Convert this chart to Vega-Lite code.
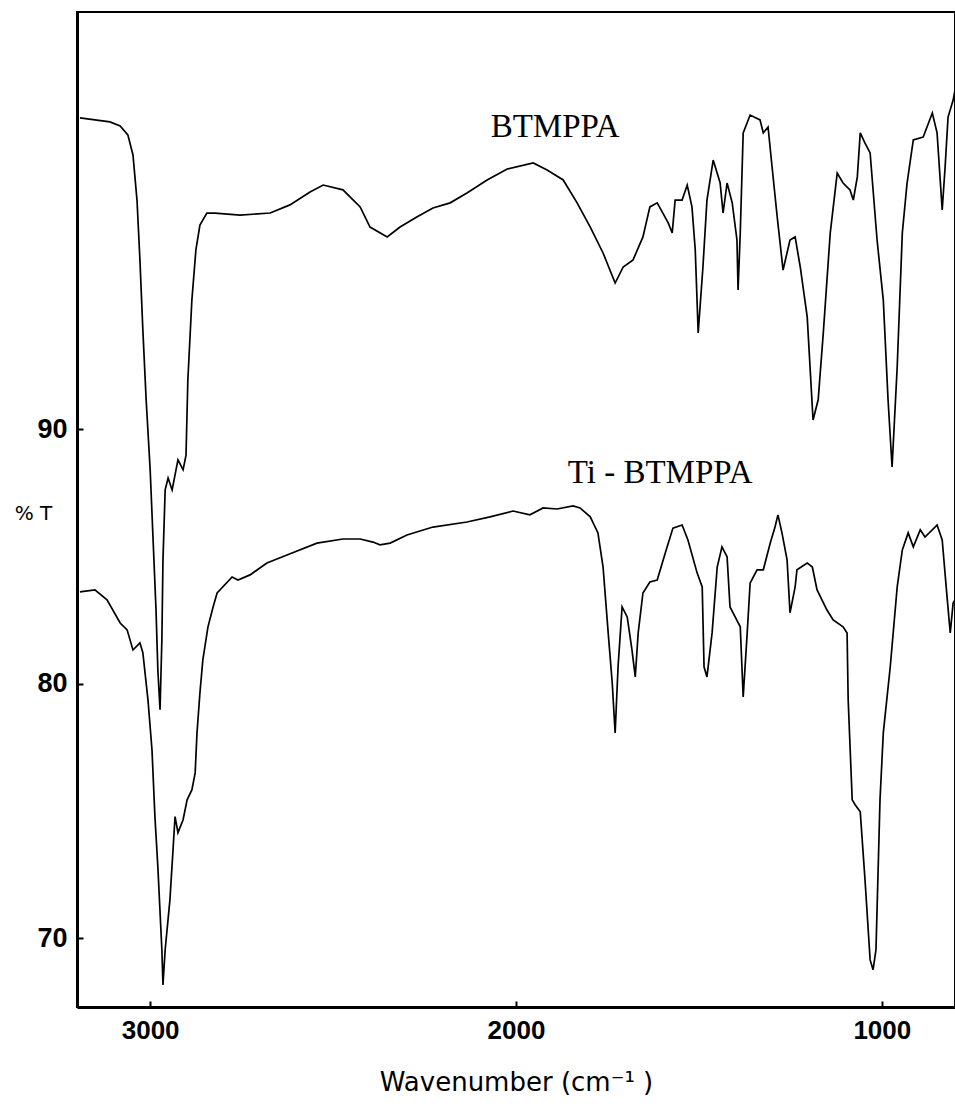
{
  "$schema": "https://vega.github.io/schema/vega-lite/v6.json",
  "width": 878,
  "height": 995,
  "autosize": {"type": "none"},
  "padding": {"left": 77, "top": 12, "right": 0, "bottom": 106},
  "background": "white",
  "config": {
    "view": {"stroke": "black", "strokeWidth": 2},
    "axis": {"domainColor": "black", "domainWidth": 3, "tickColor": "black", "labelColor": "black", "titleColor": "black", "grid": false}
  },
  "datasets": {
    "spectra": [
      {"s": "BTMPPA", "wn": 3192, "t": 102.24}, {"s": "BTMPPA", "wn": 3110, "t": 102.08}, {"s": "BTMPPA", "wn": 3082, "t": 101.92},
      {"s": "BTMPPA", "wn": 3061, "t": 101.57}, {"s": "BTMPPA", "wn": 3047, "t": 100.78}, {"s": "BTMPPA", "wn": 3036, "t": 99.01},
      {"s": "BTMPPA", "wn": 3028, "t": 96.66}, {"s": "BTMPPA", "wn": 3020, "t": 93.91}, {"s": "BTMPPA", "wn": 3011, "t": 91.16},
      {"s": "BTMPPA", "wn": 3000, "t": 88.41}, {"s": "BTMPPA", "wn": 2992, "t": 85.65}, {"s": "BTMPPA", "wn": 2984, "t": 82.9},
      {"s": "BTMPPA", "wn": 2979, "t": 80.54}, {"s": "BTMPPA", "wn": 2973, "t": 78.98}, {"s": "BTMPPA", "wn": 2968, "t": 81.73},
      {"s": "BTMPPA", "wn": 2965, "t": 84.87}, {"s": "BTMPPA", "wn": 2959, "t": 87.62}, {"s": "BTMPPA", "wn": 2951, "t": 88.09},
      {"s": "BTMPPA", "wn": 2940, "t": 87.62}, {"s": "BTMPPA", "wn": 2932, "t": 88.21}, {"s": "BTMPPA", "wn": 2924, "t": 88.8},
      {"s": "BTMPPA", "wn": 2910, "t": 88.41}, {"s": "BTMPPA", "wn": 2902, "t": 88.99}, {"s": "BTMPPA", "wn": 2897, "t": 91.94},
      {"s": "BTMPPA", "wn": 2886, "t": 95.08}, {"s": "BTMPPA", "wn": 2875, "t": 97.05}, {"s": "BTMPPA", "wn": 2864, "t": 98.03},
      {"s": "BTMPPA", "wn": 2845, "t": 98.5}, {"s": "BTMPPA", "wn": 2823, "t": 98.5}, {"s": "BTMPPA", "wn": 2754, "t": 98.42},
      {"s": "BTMPPA", "wn": 2672, "t": 98.5}, {"s": "BTMPPA", "wn": 2618, "t": 98.82}, {"s": "BTMPPA", "wn": 2563, "t": 99.33},
      {"s": "BTMPPA", "wn": 2527, "t": 99.6}, {"s": "BTMPPA", "wn": 2473, "t": 99.41}, {"s": "BTMPPA", "wn": 2426, "t": 98.74},
      {"s": "BTMPPA", "wn": 2399, "t": 97.95}, {"s": "BTMPPA", "wn": 2352, "t": 97.56}, {"s": "BTMPPA", "wn": 2317, "t": 97.95},
      {"s": "BTMPPA", "wn": 2270, "t": 98.35}, {"s": "BTMPPA", "wn": 2227, "t": 98.7}, {"s": "BTMPPA", "wn": 2180, "t": 98.9},
      {"s": "BTMPPA", "wn": 2134, "t": 99.29}, {"s": "BTMPPA", "wn": 2079, "t": 99.8}, {"s": "BTMPPA", "wn": 2024, "t": 100.23},
      {"s": "BTMPPA", "wn": 1953, "t": 100.47}, {"s": "BTMPPA", "wn": 1915, "t": 100.19}, {"s": "BTMPPA", "wn": 1871, "t": 99.8},
      {"s": "BTMPPA", "wn": 1833, "t": 98.9}, {"s": "BTMPPA", "wn": 1797, "t": 97.95}, {"s": "BTMPPA", "wn": 1762, "t": 96.93},
      {"s": "BTMPPA", "wn": 1729, "t": 95.75}, {"s": "BTMPPA", "wn": 1707, "t": 96.38}, {"s": "BTMPPA", "wn": 1680, "t": 96.66},
      {"s": "BTMPPA", "wn": 1653, "t": 97.56}, {"s": "BTMPPA", "wn": 1634, "t": 98.74}, {"s": "BTMPPA", "wn": 1614, "t": 98.9},
      {"s": "BTMPPA", "wn": 1584, "t": 98.11}, {"s": "BTMPPA", "wn": 1573, "t": 97.72}, {"s": "BTMPPA", "wn": 1565, "t": 99.01},
      {"s": "BTMPPA", "wn": 1546, "t": 99.01}, {"s": "BTMPPA", "wn": 1532, "t": 99.6}, {"s": "BTMPPA", "wn": 1519, "t": 98.74},
      {"s": "BTMPPA", "wn": 1510, "t": 97.05}, {"s": "BTMPPA", "wn": 1502, "t": 93.79}, {"s": "BTMPPA", "wn": 1489, "t": 96.38},
      {"s": "BTMPPA", "wn": 1478, "t": 99.01}, {"s": "BTMPPA", "wn": 1461, "t": 100.58}, {"s": "BTMPPA", "wn": 1442, "t": 99.68},
      {"s": "BTMPPA", "wn": 1434, "t": 98.5}, {"s": "BTMPPA", "wn": 1423, "t": 99.68}, {"s": "BTMPPA", "wn": 1409, "t": 98.9},
      {"s": "BTMPPA", "wn": 1396, "t": 97.44}, {"s": "BTMPPA", "wn": 1393, "t": 95.48}, {"s": "BTMPPA", "wn": 1387, "t": 97.72},
      {"s": "BTMPPA", "wn": 1379, "t": 101.65}, {"s": "BTMPPA", "wn": 1360, "t": 102.35}, {"s": "BTMPPA", "wn": 1333, "t": 102.16},
      {"s": "BTMPPA", "wn": 1324, "t": 101.65}, {"s": "BTMPPA", "wn": 1311, "t": 101.88}, {"s": "BTMPPA", "wn": 1300, "t": 100.31},
      {"s": "BTMPPA", "wn": 1286, "t": 98.35}, {"s": "BTMPPA", "wn": 1270, "t": 96.26}, {"s": "BTMPPA", "wn": 1251, "t": 97.44},
      {"s": "BTMPPA", "wn": 1237, "t": 97.56}, {"s": "BTMPPA", "wn": 1223, "t": 96.38}, {"s": "BTMPPA", "wn": 1204, "t": 94.42},
      {"s": "BTMPPA", "wn": 1188, "t": 90.37}, {"s": "BTMPPA", "wn": 1174, "t": 91.16}, {"s": "BTMPPA", "wn": 1160, "t": 93.79},
      {"s": "BTMPPA", "wn": 1141, "t": 97.72}, {"s": "BTMPPA", "wn": 1122, "t": 100.07}, {"s": "BTMPPA", "wn": 1106, "t": 99.68},
      {"s": "BTMPPA", "wn": 1087, "t": 99.41}, {"s": "BTMPPA", "wn": 1078, "t": 99.01}, {"s": "BTMPPA", "wn": 1067, "t": 99.92},
      {"s": "BTMPPA", "wn": 1059, "t": 101.65}, {"s": "BTMPPA", "wn": 1046, "t": 101.25}, {"s": "BTMPPA", "wn": 1032, "t": 100.86},
      {"s": "BTMPPA", "wn": 1013, "t": 97.44}, {"s": "BTMPPA", "wn": 996, "t": 95.08}, {"s": "BTMPPA", "wn": 983, "t": 91.16},
      {"s": "BTMPPA", "wn": 972, "t": 88.52}, {"s": "BTMPPA", "wn": 958, "t": 92.45}, {"s": "BTMPPA", "wn": 944, "t": 97.72},
      {"s": "BTMPPA", "wn": 931, "t": 99.68}, {"s": "BTMPPA", "wn": 914, "t": 101.37}, {"s": "BTMPPA", "wn": 887, "t": 101.49},
      {"s": "BTMPPA", "wn": 862, "t": 102.43}, {"s": "BTMPPA", "wn": 849, "t": 101.65}, {"s": "BTMPPA", "wn": 835, "t": 98.62},
      {"s": "BTMPPA", "wn": 827, "t": 100.31}, {"s": "BTMPPA", "wn": 819, "t": 102.27}, {"s": "BTMPPA", "wn": 805, "t": 102.94},
      {"s": "BTMPPA", "wn": 800, "t": 103.34},
      {"s": "Ti-BTMPPA", "wn": 3192, "t": 83.61}, {"s": "Ti-BTMPPA", "wn": 3151, "t": 83.69}, {"s": "Ti-BTMPPA", "wn": 3118, "t": 83.3},
      {"s": "Ti-BTMPPA", "wn": 3082, "t": 82.39}, {"s": "Ti-BTMPPA", "wn": 3063, "t": 82.12}, {"s": "Ti-BTMPPA", "wn": 3047, "t": 81.33},
      {"s": "Ti-BTMPPA", "wn": 3028, "t": 81.61}, {"s": "Ti-BTMPPA", "wn": 3020, "t": 81.22}, {"s": "Ti-BTMPPA", "wn": 3006, "t": 79.37},
      {"s": "Ti-BTMPPA", "wn": 2995, "t": 77.4}, {"s": "Ti-BTMPPA", "wn": 2987, "t": 74.78}, {"s": "Ti-BTMPPA", "wn": 2979, "t": 72.81},
      {"s": "Ti-BTMPPA", "wn": 2968, "t": 69.55}, {"s": "Ti-BTMPPA", "wn": 2965, "t": 68.17}, {"s": "Ti-BTMPPA", "wn": 2959, "t": 69.55},
      {"s": "Ti-BTMPPA", "wn": 2946, "t": 71.51}, {"s": "Ti-BTMPPA", "wn": 2938, "t": 73.36}, {"s": "Ti-BTMPPA", "wn": 2932, "t": 74.78},
      {"s": "Ti-BTMPPA", "wn": 2924, "t": 74.15}, {"s": "Ti-BTMPPA", "wn": 2910, "t": 74.66}, {"s": "Ti-BTMPPA", "wn": 2899, "t": 75.44},
      {"s": "Ti-BTMPPA", "wn": 2886, "t": 75.83}, {"s": "Ti-BTMPPA", "wn": 2877, "t": 76.5}, {"s": "Ti-BTMPPA", "wn": 2872, "t": 78.07},
      {"s": "Ti-BTMPPA", "wn": 2864, "t": 79.64}, {"s": "Ti-BTMPPA", "wn": 2856, "t": 80.94}, {"s": "Ti-BTMPPA", "wn": 2842, "t": 82.24},
      {"s": "Ti-BTMPPA", "wn": 2828, "t": 83.02}, {"s": "Ti-BTMPPA", "wn": 2817, "t": 83.57}, {"s": "Ti-BTMPPA", "wn": 2776, "t": 84.2},
      {"s": "Ti-BTMPPA", "wn": 2760, "t": 84.08}, {"s": "Ti-BTMPPA", "wn": 2727, "t": 84.28}, {"s": "Ti-BTMPPA", "wn": 2681, "t": 84.75},
      {"s": "Ti-BTMPPA", "wn": 2626, "t": 85.06}, {"s": "Ti-BTMPPA", "wn": 2544, "t": 85.53}, {"s": "Ti-BTMPPA", "wn": 2473, "t": 85.69},
      {"s": "Ti-BTMPPA", "wn": 2426, "t": 85.69}, {"s": "Ti-BTMPPA", "wn": 2391, "t": 85.57}, {"s": "Ti-BTMPPA", "wn": 2372, "t": 85.46},
      {"s": "Ti-BTMPPA", "wn": 2344, "t": 85.53}, {"s": "Ti-BTMPPA", "wn": 2298, "t": 85.85}, {"s": "Ti-BTMPPA", "wn": 2227, "t": 86.16},
      {"s": "Ti-BTMPPA", "wn": 2134, "t": 86.36}, {"s": "Ti-BTMPPA", "wn": 2071, "t": 86.56}, {"s": "Ti-BTMPPA", "wn": 2008, "t": 86.79},
      {"s": "Ti-BTMPPA", "wn": 1962, "t": 86.64}, {"s": "Ti-BTMPPA", "wn": 1926, "t": 86.91}, {"s": "Ti-BTMPPA", "wn": 1888, "t": 86.87},
      {"s": "Ti-BTMPPA", "wn": 1844, "t": 86.99}, {"s": "Ti-BTMPPA", "wn": 1825, "t": 86.91}, {"s": "Ti-BTMPPA", "wn": 1797, "t": 86.56},
      {"s": "Ti-BTMPPA", "wn": 1776, "t": 85.93}, {"s": "Ti-BTMPPA", "wn": 1762, "t": 84.59}, {"s": "Ti-BTMPPA", "wn": 1748, "t": 82.0},
      {"s": "Ti-BTMPPA", "wn": 1737, "t": 80.04}, {"s": "Ti-BTMPPA", "wn": 1729, "t": 78.07}, {"s": "Ti-BTMPPA", "wn": 1721, "t": 80.67},
      {"s": "Ti-BTMPPA", "wn": 1710, "t": 83.02}, {"s": "Ti-BTMPPA", "wn": 1696, "t": 82.63}, {"s": "Ti-BTMPPA", "wn": 1683, "t": 81.33},
      {"s": "Ti-BTMPPA", "wn": 1674, "t": 80.27}, {"s": "Ti-BTMPPA", "wn": 1666, "t": 82.0}, {"s": "Ti-BTMPPA", "wn": 1653, "t": 83.57},
      {"s": "Ti-BTMPPA", "wn": 1634, "t": 84.0}, {"s": "Ti-BTMPPA", "wn": 1614, "t": 84.08}, {"s": "Ti-BTMPPA", "wn": 1592, "t": 85.14},
      {"s": "Ti-BTMPPA", "wn": 1571, "t": 86.12}, {"s": "Ti-BTMPPA", "wn": 1546, "t": 86.24}, {"s": "Ti-BTMPPA", "wn": 1530, "t": 85.65},
      {"s": "Ti-BTMPPA", "wn": 1505, "t": 84.36}, {"s": "Ti-BTMPPA", "wn": 1491, "t": 83.81}, {"s": "Ti-BTMPPA", "wn": 1486, "t": 80.67},
      {"s": "Ti-BTMPPA", "wn": 1478, "t": 80.27}, {"s": "Ti-BTMPPA", "wn": 1464, "t": 82.0}, {"s": "Ti-BTMPPA", "wn": 1450, "t": 84.59},
      {"s": "Ti-BTMPPA", "wn": 1437, "t": 85.38}, {"s": "Ti-BTMPPA", "wn": 1423, "t": 84.99}, {"s": "Ti-BTMPPA", "wn": 1415, "t": 83.02},
      {"s": "Ti-BTMPPA", "wn": 1401, "t": 82.63}, {"s": "Ti-BTMPPA", "wn": 1387, "t": 82.24}, {"s": "Ti-BTMPPA", "wn": 1379, "t": 79.48},
      {"s": "Ti-BTMPPA", "wn": 1368, "t": 82.0}, {"s": "Ti-BTMPPA", "wn": 1360, "t": 83.96}, {"s": "Ti-BTMPPA", "wn": 1341, "t": 84.48},
      {"s": "Ti-BTMPPA", "wn": 1324, "t": 84.48}, {"s": "Ti-BTMPPA", "wn": 1305, "t": 85.53}, {"s": "Ti-BTMPPA", "wn": 1292, "t": 86.16},
      {"s": "Ti-BTMPPA", "wn": 1284, "t": 86.64}, {"s": "Ti-BTMPPA", "wn": 1273, "t": 85.93}, {"s": "Ti-BTMPPA", "wn": 1259, "t": 84.87},
      {"s": "Ti-BTMPPA", "wn": 1251, "t": 82.79}, {"s": "Ti-BTMPPA", "wn": 1237, "t": 83.81}, {"s": "Ti-BTMPPA", "wn": 1232, "t": 84.48},
      {"s": "Ti-BTMPPA", "wn": 1204, "t": 84.75}, {"s": "Ti-BTMPPA", "wn": 1190, "t": 84.59}, {"s": "Ti-BTMPPA", "wn": 1177, "t": 83.69},
      {"s": "Ti-BTMPPA", "wn": 1150, "t": 82.9}, {"s": "Ti-BTMPPA", "wn": 1133, "t": 82.51}, {"s": "Ti-BTMPPA", "wn": 1106, "t": 82.24},
      {"s": "Ti-BTMPPA", "wn": 1095, "t": 82.0}, {"s": "Ti-BTMPPA", "wn": 1092, "t": 79.37}, {"s": "Ti-BTMPPA", "wn": 1081, "t": 75.44},
      {"s": "Ti-BTMPPA", "wn": 1073, "t": 75.25}, {"s": "Ti-BTMPPA", "wn": 1059, "t": 74.97}, {"s": "Ti-BTMPPA", "wn": 1046, "t": 72.3},
      {"s": "Ti-BTMPPA", "wn": 1032, "t": 69.15}, {"s": "Ti-BTMPPA", "wn": 1024, "t": 68.76}, {"s": "Ti-BTMPPA", "wn": 1016, "t": 69.55},
      {"s": "Ti-BTMPPA", "wn": 1005, "t": 75.44}, {"s": "Ti-BTMPPA", "wn": 996, "t": 78.07}, {"s": "Ti-BTMPPA", "wn": 977, "t": 80.67},
      {"s": "Ti-BTMPPA", "wn": 958, "t": 83.81}, {"s": "Ti-BTMPPA", "wn": 944, "t": 85.26}, {"s": "Ti-BTMPPA", "wn": 928, "t": 85.93},
      {"s": "Ti-BTMPPA", "wn": 914, "t": 85.38}, {"s": "Ti-BTMPPA", "wn": 895, "t": 86.05}, {"s": "Ti-BTMPPA", "wn": 882, "t": 85.77},
      {"s": "Ti-BTMPPA", "wn": 849, "t": 86.24}, {"s": "Ti-BTMPPA", "wn": 835, "t": 85.65}, {"s": "Ti-BTMPPA", "wn": 821, "t": 83.3},
      {"s": "Ti-BTMPPA", "wn": 813, "t": 82.0}, {"s": "Ti-BTMPPA", "wn": 805, "t": 83.18}, {"s": "Ti-BTMPPA", "wn": 800, "t": 83.3}
    ],
    "labels": [
      {"label": "BTMPPA", "wn": 1893, "t": 101.88},
      {"label": "Ti - BTMPPA", "wn": 1606, "t": 88.29}
    ]
  },
  "layer": [
    {
      "data": {"name": "spectra"},
      "mark": {"type": "line", "color": "black", "strokeWidth": 1.7, "clip": true},
      "encoding": {
        "x": {
          "field": "wn", "type": "quantitative",
          "scale": {"domain": [3200, 800], "nice": false, "zero": false},
          "axis": {
            "values": [3000, 2000, 1000], "format": "d", "tickSize": -6, "tickWidth": 2, "labelPadding": 16,
            "labelFont": "Liberation Sans", "labelFontWeight": "bold", "labelFontSize": 26, "labelBaseline": "top",
            "title": "Wavenumber (cm⁻¹ )", "titleFont": "DejaVu Sans", "titleFontWeight": "normal", "titleFontSize": 26,
            "titlePadding": 26
          }
        },
        "y": {
          "field": "t", "type": "quantitative",
          "scale": {"domain": [67.3, 106.4], "nice": false, "zero": false},
          "axis": {
            "values": [70, 80, 90], "format": "d", "tickSize": -6, "tickWidth": 2, "labelPadding": 16,
            "labelFont": "Liberation Sans", "labelFontWeight": "bold", "labelFontSize": 27,
            "title": "% T", "titleAngle": 0, "titleFont": "DejaVu Sans", "titleFontWeight": "normal", "titleFontSize": 20,
            "titleX": -44, "titleY": 501, "titleAlign": "center", "titleBaseline": "middle"
          }
        },
        "detail": {"field": "s", "type": "nominal"}
      }
    },
    {
      "data": {"name": "labels"},
      "mark": {"type": "text", "font": "Liberation Serif", "fontSize": 33, "color": "black", "align": "center", "baseline": "middle", "letterSpacing": 3},
      "encoding": {
        "x": {"field": "wn", "type": "quantitative"},
        "y": {"field": "t", "type": "quantitative"},
        "text": {"field": "label", "type": "nominal"}
      }
    }
  ]
}
